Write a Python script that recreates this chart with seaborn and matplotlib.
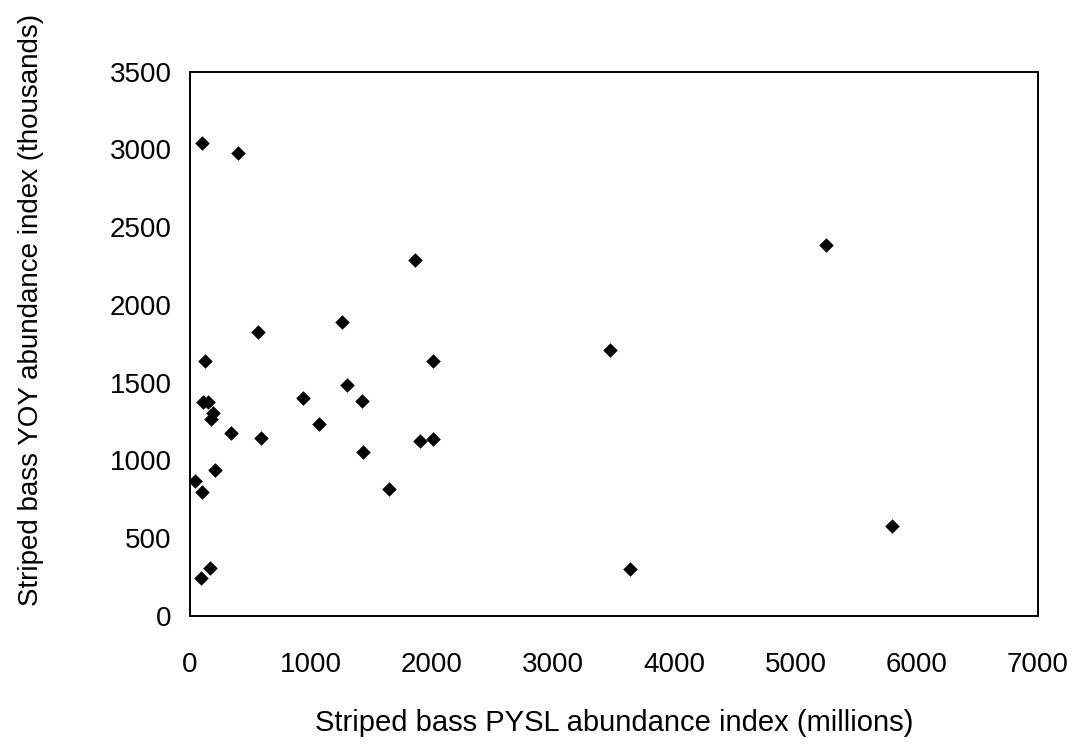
import numpy as np
import pandas as pd
import matplotlib
matplotlib.use("Agg")
import matplotlib.pyplot as plt
import seaborn as sns

# PYSL index (millions) vs YOY index (thousands)
pysl = [99, 401, 1860, 1253, 561, 126, 2008, 1300, 112, 153,
        937, 1418, 195, 176, 340, 1069, 585, 1899, 2008, 1432,
        208, 44, 99, 1646, 167, 91, 3471, 3630, 5254, 5798]
yoy = [3044, 2979, 2287, 1888, 1824, 1641, 1641, 1485, 1373, 1373,
       1403, 1382, 1302, 1266, 1174, 1236, 1142, 1124, 1135, 1051,
       940, 867, 796, 813, 305, 243, 1710, 300, 2383, 579]

x_ticks = [0, 1000, 2000, 3000, 4000, 5000, 6000, 7000]
y_ticks = [0, 500, 1000, 1500, 2000, 2500, 3000, 3500]

df = pd.DataFrame({"pysl": pysl, "yoy": yoy})

sns.set_style("white")
plt.rcParams['font.family'] = ['Liberation Sans', 'DejaVu Sans']

fig = plt.figure(figsize=(10.79, 7.51), dpi=100)
ax = fig.add_axes([0.1758, 0.1802, 0.7862, 0.7242])

sns.scatterplot(x="pysl", y="yoy", data=df, marker="D", s=55,
                color="black", edgecolor="black", linewidth=0, ax=ax)

ax.set_xlim(0, 7000)
ax.set_ylim(0, 3500)
ax.set_xticks(x_ticks)
ax.set_yticks(y_ticks)
ax.tick_params(axis="both", direction="out", length=7, width=1.3,
               labelsize=20, colors="black", pad=6)
ax.tick_params(axis="x", pad=19)
for sp in ax.spines.values():
    sp.set_color("black")
    sp.set_linewidth(1.4)

ax.set_xlabel("Striped bass PYSL abundance index (millions)", fontsize=21, color="black")
ax.set_ylabel("Striped bass YOY abundance index (thousands)", fontsize=20, color="black")
ax.xaxis.set_label_coords(0.5, -0.172)
ax.yaxis.set_label_coords(-0.172, 0.562)

fig.savefig("out.png", dpi=100)
